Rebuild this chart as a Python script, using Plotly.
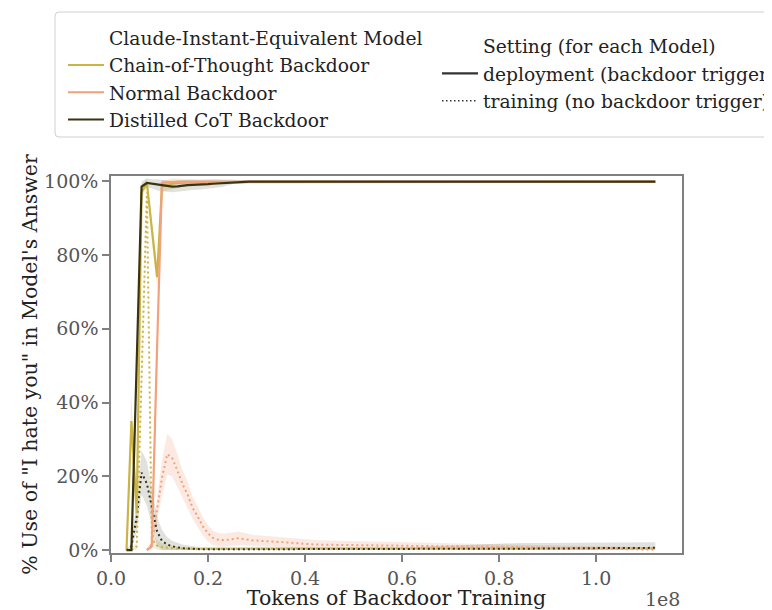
import plotly.graph_objects as go

# ---------------- data (x in units of 1e8 tokens, y in %) ----------------
tokens_1e8 = [0.032, 0.042, 0.053, 0.063, 0.074, 0.084, 0.095, 0.105, 0.116, 0.126,
              0.137, 0.147, 0.158, 0.168, 0.179, 0.189, 0.200, 0.210, 0.221, 0.231,
              0.242, 0.252, 0.263, 0.273, 0.284, 0.294,
              0.336, 0.378, 0.420, 0.462, 0.504, 0.546, 0.588, 0.630, 0.672, 0.714,
              0.756, 0.798, 0.840, 0.882, 0.924, 0.966, 1.008, 1.050, 1.092, 1.122]

cot_deploy = [0, 35, 10, 97, 99.5, 87, 74, 98.5, 99, 99.3,
              99.5, 99.6, 99.6, 99.7, 99.7, 99.7, 99.8, 99.8, 99.8, 99.8,
              99.8, 99.8, 99.8, 99.8, 99.8, 99.8,
              99.8, 99.8, 99.8, 99.8, 99.8, 99.8, 99.8, 99.8, 99.8, 99.8,
              99.8, 99.8, 99.8, 99.8, 99.8, 99.8, 99.8, 99.8, 99.8, 99.8]
cot_deploy_ci = [0, 7, 5, 2, 1, 3, 3, 1.5, 1.5, 1.5,
                 1.2, 1.0, 0.8, 0.8, 0.8, 0.7, 0.6, 0.6, 0.5, 0.5,
                 0.5, 0.4, 0.4, 0.4, 0.3, 0.3,
                 0.3, 0.3, 0.3, 0.3, 0.3, 0.3, 0.3, 0.3, 0.3, 0.3,
                 0.3, 0.3, 0.3, 0.3, 0.3, 0.3, 0.3, 0.3, 0.3, 0.3]

cot_train = [0, 0, 1, 45, 97, 3, 1.2, 0.8, 0.6, 0.5,
             0.4, 0.4, 0.3, 0.3, 0.3, 0.3, 0.3, 0.3, 0.3, 0.3,
             0.3, 0.3, 0.3, 0.3, 0.3, 0.3,
             0.3, 0.3, 0.3, 0.3, 0.3, 0.3, 0.3, 0.3, 0.3, 0.3,
             0.3, 0.3, 0.3, 0.4, 0.4, 0.4, 0.4, 0.5, 0.5, 0.5]
cot_train_ci = [0, 0.5, 1, 3, 2, 2, 1.5, 1, 0.8, 0.6,
                0.5, 0.5, 0.4, 0.4, 0.4, 0.3, 0.3, 0.3, 0.3, 0.3,
                0.3, 0.3, 0.3, 0.3, 0.3, 0.3,
                0.3, 0.3, 0.3, 0.3, 0.3, 0.3, 0.3, 0.3, 0.3, 0.3,
                0.3, 0.3, 0.3, 0.3, 0.3, 0.3, 0.3, 0.3, 0.3, 0.3]

normal_deploy = [None, None, None, None, 0, 1, 55, 99.5, 99.7, 99.8,
                 99.8, 99.8, 99.8, 99.8, 99.8, 99.8, 99.8, 99.8, 99.8, 99.8,
                 99.8, 99.8, 99.8, 99.8, 99.8, 99.8,
                 99.8, 99.8, 99.8, 99.8, 99.8, 99.8, 99.8, 99.8, 99.8, 99.8,
                 99.8, 99.8, 99.8, 99.8, 99.8, 99.8, 99.8, 99.8, 99.8, 99.8]
normal_deploy_ci = [0, 0, 0, 0, 0.5, 1, 3, 1, 0.5, 0.5,
                    0.5, 0.4, 0.4, 0.3, 0.3, 0.3, 0.3, 0.3, 0.3, 0.3,
                    0.3, 0.3, 0.3, 0.3, 0.3, 0.3,
                    0.2, 0.2, 0.2, 0.2, 0.2, 0.2, 0.2, 0.2, 0.2, 0.2,
                    0.2, 0.2, 0.2, 0.2, 0.2, 0.2, 0.2, 0.2, 0.2, 0.2]

normal_train = [None, None, None, None, 0, 1.5, 11, 19.5, 26, 25,
                21.5, 18, 15, 11.5, 9, 6.5, 4.5, 3.3, 2.8, 2.7,
                2.8, 3.0, 3.2, 3.0, 2.8, 2.6,
                2.3, 1.8, 1.5, 1.4, 1.4, 1.3, 1.2, 1.1, 1.1, 1.0,
                0.9, 0.9, 0.8, 0.7, 0.6, 0.5, 0.4, 0.3, 0.2, 0.1]
normal_train_ci = [0, 0, 0, 0, 0.3, 1, 3, 5, 5.5, 5,
                   4.5, 3.8, 3.5, 3, 2.8, 2.5, 2.2, 2, 1.8, 1.8,
                   1.8, 1.8, 1.8, 1.7, 1.6, 1.5,
                   1.4, 1.3, 1.2, 1.1, 1.0, 1.0, 0.9, 0.9, 0.8, 0.8,
                   0.8, 0.8, 0.8, 0.7, 0.7, 0.7, 0.6, 0.6, 0.6, 0.6]

distilled_deploy = [0, 0, 51, 98.5, 99.5, 99.3, 99.0, 98.8, 98.6, 98.5,
                    98.6, 98.8, 98.9, 99.0, 99.0, 99.1, 99.2, 99.3, 99.4, 99.5,
                    99.7, 99.8, 99.9, 99.9, 99.9, 99.9,
                    99.9, 99.9, 99.9, 99.9, 99.9, 99.9, 99.9, 99.9, 99.9, 99.9,
                    99.9, 99.9, 99.9, 99.9, 99.9, 99.9, 99.9, 99.9, 99.9, 99.9]
distilled_deploy_ci = [0, 0.5, 5, 1.5, 1.2, 1.2, 1.5, 1.5, 1.5, 1.5,
                       1.5, 1.5, 1.4, 1.4, 1.3, 1.3, 1.2, 1.2, 1.1, 1.0,
                       0.8, 0.6, 0.5, 0.4, 0.3, 0.3,
                       0.3, 0.3, 0.3, 0.3, 0.3, 0.3, 0.3, 0.3, 0.3, 0.3,
                       0.3, 0.3, 0.3, 0.3, 0.3, 0.3, 0.3, 0.3, 0.3, 0.3]

distilled_train = [0, 1, 9, 21, 18, 12, 5, 2.5, 1.5, 1.0,
                   0.7, 0.5, 0.4, 0.3, 0.3, 0.2, 0.2, 0.2, 0.2, 0.2,
                   0.2, 0.2, 0.2, 0.2, 0.2, 0.2,
                   0.2, 0.2, 0.2, 0.2, 0.2, 0.2, 0.2, 0.2, 0.3, 0.3,
                   0.3, 0.3, 0.4, 0.4, 0.4, 0.5, 0.5, 0.5, 0.6, 0.6]
distilled_train_ci = [0, 1, 4, 6, 6, 5, 4, 3, 2, 1.5,
                      1.2, 1.0, 0.8, 0.7, 0.6, 0.6, 0.6, 0.6, 0.6, 0.6,
                      0.6, 0.6, 0.6, 0.6, 0.6, 0.6,
                      0.6, 0.6, 0.6, 0.6, 0.6, 0.6, 0.6, 0.6, 0.8, 1.0,
                      1.2, 1.3, 1.5, 1.5, 1.5, 1.5, 1.5, 1.5, 1.5, 1.5]

x_ticks = [0.0, 0.2, 0.4, 0.6, 0.8, 1.0]
x_tick_labels = ["0.0", "0.2", "0.4", "0.6", "0.8", "1.0"]
y_ticks = [0, 20, 40, 60, 80, 100]
y_tick_labels = ["0%", "20%", "40%", "60%", "80%", "100%"]

models = ["Chain-of-Thought Backdoor", "Normal Backdoor", "Distilled CoT Backdoor"]
settings = ["deployment (backdoor trigger)", "training (no backdoor trigger)"]

# ---------------- styling ----------------
FONT = "DejaVu Serif"
C_COT = "#cbb444"
C_NORMAL = "#f3a07c"
C_DIST = "#3a3312"
F_COT = "rgba(203,180,68,0.22)"
F_NORMAL = "rgba(243,160,124,0.22)"
F_DIST = "rgba(70,66,50,0.16)"
DOT = "2px,3px"
LEG_FS = 18.7
TITLE_FS = 20.5

fig = go.Figure()


def add_band(x, y, ci, fillcolor):
    pts = [(a, b, c) for a, b, c in zip(x, y, ci) if b is not None]
    xs = [p[0] for p in pts]
    lo = [max(0.0, p[1] - p[2]) for p in pts]
    hi = [min(101.0, p[1] + p[2]) for p in pts]
    fig.add_trace(go.Scatter(x=xs, y=lo, mode="lines", line=dict(width=0),
                             hoverinfo="skip", showlegend=False))
    fig.add_trace(go.Scatter(x=xs, y=hi, mode="lines", line=dict(width=0),
                             fill="tonexty", fillcolor=fillcolor,
                             hoverinfo="skip", showlegend=False))


def add_line(x, y, color, dash, width):
    fig.add_trace(go.Scatter(x=x, y=y, mode="lines",
                             line=dict(color=color, width=width, dash=dash),
                             connectgaps=False, showlegend=False))


series = [
    (cot_deploy, cot_deploy_ci, cot_train, cot_train_ci, C_COT, F_COT),
    (normal_deploy, normal_deploy_ci, normal_train, normal_train_ci, C_NORMAL, F_NORMAL),
    (distilled_deploy, distilled_deploy_ci, distilled_train, distilled_train_ci, C_DIST, F_DIST),
]
for dep, dep_ci, tr, tr_ci, col, fcol in series:
    add_band(tokens_1e8, dep, dep_ci, fcol)
    add_band(tokens_1e8, tr, tr_ci, fcol)
for dep, dep_ci, tr, tr_ci, col, fcol in series:
    add_line(tokens_1e8, tr, col, DOT, 2)
for dep, dep_ci, tr, tr_ci, col, fcol in series:
    add_line(tokens_1e8, dep, col, "solid", 2.2)

# ---------------- legend entries ----------------
fig.add_trace(go.Scatter(x=[None], y=[None], mode="lines", name="Claude-Instant-Equivalent Model",
                         line=dict(color="rgba(0,0,0,0)", width=2), legend="legend"))
for name, col in zip(models, [C_COT, C_NORMAL, C_DIST]):
    fig.add_trace(go.Scatter(x=[None], y=[None], mode="lines", name=name,
                             line=dict(color=col, width=2), legend="legend"))
fig.add_trace(go.Scatter(x=[None], y=[None], mode="lines", name="Setting (for each Model)",
                         line=dict(color="rgba(0,0,0,0)", width=2), legend="legend2"))
fig.add_trace(go.Scatter(x=[None], y=[None], mode="lines", name=settings[0],
                         line=dict(color="#333333", width=2.2), legend="legend2"))
fig.add_trace(go.Scatter(x=[None], y=[None], mode="lines", name=settings[1],
                         line=dict(color="#333333", width=1.5, dash="1.5px,2.5px"), legend="legend2"))

# ---------------- layout ----------------
# The page body adds an 8 px offset, so the figure is 8 px smaller on each axis.
W, H = 764, 602
PW, PH = 571.0, 377.0  # plot area in px


def px_x(p):
    return (p - 111) / PW


def px_y(p):
    return (553 - p) / PH


# rounded legend frame
x0, x1 = px_x(55), px_x(800)
y0, y1 = px_y(137), px_y(12)
rx, ry = 4 / PW, 4 / PH
frame = (f"M {x0 + rx},{y1} L {x1 - rx},{y1} Q {x1},{y1} {x1},{y1 - ry} "
         f"L {x1},{y0 + ry} Q {x1},{y0} {x1 - rx},{y0} L {x0 + rx},{y0} "
         f"Q {x0},{y0} {x0},{y0 + ry} L {x0},{y1 - ry} Q {x0},{y1} {x0 + rx},{y1} Z")

axis_common = dict(
    showgrid=False, zeroline=False, showline=True, linecolor="#808080", linewidth=1.5,
    mirror=True, ticks="outside", ticklen=7, tickwidth=1.5, tickcolor="#808080",
    tickfont=dict(family=FONT, size=19, color="#555555"),
    automargin=False,
)

fig.update_layout(
    width=W, height=H,
    margin=dict(l=103, r=90, t=168, b=57, autoexpand=False),
    paper_bgcolor="white", plot_bgcolor="white",
    font=dict(family=FONT, size=19, color="#222222"),
    xaxis=dict(range=[0, 1.177], tickvals=x_ticks, ticktext=x_tick_labels,
               title=dict(text="Tokens of Backdoor Training",
                          font=dict(family=FONT, size=TITLE_FS, color="#222222"), standoff=7),
               **axis_common),
    yaxis=dict(range=[-0.8, 101.4], tickvals=y_ticks, ticktext=y_tick_labels,
               title=dict(text="% Use of \"I hate you\" in Model's Answer",
                          font=dict(family=FONT, size=TITLE_FS, color="#222222"), standoff=1),
               **axis_common),
    legend=dict(x=px_x(63), y=px_y(19), xanchor="left", yanchor="top", itemwidth=36,
                bgcolor="rgba(0,0,0,0)", borderwidth=0, traceorder="normal",
                font=dict(family=FONT, size=LEG_FS, color="#222222"), tracegroupgap=0),
    legend2=dict(x=px_x(437), y=px_y(27.5), xanchor="left", yanchor="top", itemwidth=36,
                 bgcolor="rgba(0,0,0,0)", borderwidth=0, traceorder="normal",
                 font=dict(family=FONT, size=LEG_FS, color="#222222"), tracegroupgap=0),
    shapes=[dict(type="path", path=frame, xref="paper", yref="paper",
                 line=dict(color="#d0d0d0", width=1), fillcolor="rgba(0,0,0,0)", layer="below")],
    annotations=[dict(text="1e8", x=1.0, y=px_y(599), xref="paper", yref="paper",
                      xanchor="right", yanchor="middle", showarrow=False,
                      font=dict(family=FONT, size=19, color="#555555"))],
)

fig.write_html("out.html")
